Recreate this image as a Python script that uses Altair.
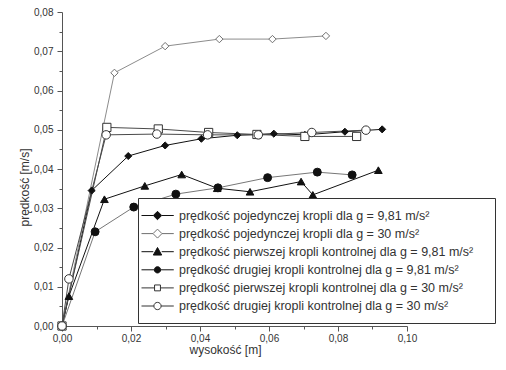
import altair as alt
import pandas as pd

labels = [
    "prędkość pojedynczej kropli dla g = 9,81 m/s²",
    "prędkość pojedynczej kropli dla g = 30 m/s²",
    "prędkość pierwszej kropli kontrolnej dla g = 9,81 m/s²",
    "prędkość drugiej kropli kontrolnej dla g = 9,81 m/s²",
    "prędkość pierwszej kropli kontrolnej dla g = 30 m/s²",
    "prędkość drugiej kropli kontrolnej dla g = 30 m/s²",
]

s1_x = [0, 0.0086, 0.0192, 0.0299, 0.0404, 0.0508, 0.0614, 0.0704, 0.0820, 0.0928]
s1_y = [0, 0.0345, 0.0433, 0.0460, 0.0477, 0.0486, 0.0490, 0.0487, 0.0495, 0.0501]
s2_x = [0, 0.0152, 0.0299, 0.0456, 0.0610, 0.0765]
s2_y = [0, 0.0645, 0.0713, 0.0731, 0.0731, 0.0739]
s3_x = [0, 0.0020, 0.0123, 0.0240, 0.0347, 0.0450, 0.0545, 0.0693, 0.0727, 0.0917]
s3_y = [0, 0.0076, 0.0323, 0.0357, 0.0386, 0.0351, 0.0342, 0.0368, 0.0334, 0.0397]
s4_x = [0, 0.0096, 0.0208, 0.0330, 0.0452, 0.0596, 0.0740, 0.0841]
s4_y = [0, 0.0240, 0.0303, 0.0336, 0.0352, 0.0378, 0.0392, 0.0385]
s5_x = [0, 0.0130, 0.0279, 0.0425, 0.0565, 0.0704, 0.0854]
s5_y = [0, 0.0506, 0.0502, 0.0493, 0.0488, 0.0483, 0.0483]
s6_x = [0, 0.0020, 0.0128, 0.0275, 0.0422, 0.0569, 0.0724, 0.0881]
s6_y = [0, 0.0120, 0.0487, 0.0489, 0.0487, 0.0487, 0.0493, 0.0499]

x_ticks = [0, 0.01, 0.02, 0.03, 0.04, 0.05, 0.06, 0.07, 0.08, 0.09, 0.10]
y_ticks = [0, 0.005, 0.01, 0.015, 0.02, 0.025, 0.03, 0.035, 0.04, 0.045,
           0.05, 0.055, 0.06, 0.065, 0.07, 0.075, 0.08]

line_colors = ["#111111", "#8c8c8c", "#111111", "#777777", "#4a4a4a", "#4a4a4a"]
fill_colors = ["#111111", "#ffffff", "#111111", "#111111", "#ffffff", "#ffffff"]
stroke_colors = ["#111111", "#707070", "#111111", "#111111", "#333333", "#333333"]
shapes = ["diamond", "diamond", "triangle-up", "circle", "square", "circle"]
sizes = [50, 72, 60, 30, 30, 42]

series = [(s1_x, s1_y), (s2_x, s2_y), (s3_x, s3_y), (s4_x, s4_y), (s5_x, s5_y), (s6_x, s6_y)]
rows = []
for k, (xs, ys) in enumerate(series):
    for i, (xv, yv) in enumerate(zip(xs, ys)):
        rows.append({"k": k, "i": i, "x": xv, "y": yv})
df = pd.DataFrame(rows)

keys = list(range(6))
FONT = "Liberation Sans"

# legend symbol paths (line with marker), unit = 7px
cx = 0.286
L0, L1 = -2.0, 2.61
def seg(m):
    return f"M{L0},0L{cx - m:.3f},0M{cx + m:.3f},0L{L1},0"
def diamond(m):
    return seg(m) + f"M{cx:.3f},{-m}L{cx + m:.3f},0L{cx:.3f},{m}L{cx - m:.3f},0Z"
def tri(m):
    return seg(m) + f"M{cx:.3f},{-m}L{cx + m:.3f},{m*0.8:.3f}L{cx - m:.3f},{m*0.8:.3f}Z"
def circ(r):
    return seg(r) + f"M{cx - r:.3f},0A{r},{r} 0 1,0 {cx + r:.3f},0A{r},{r} 0 1,0 {cx - r:.3f},0Z"
def sq(s):
    return seg(s) + f"M{cx - s:.3f},{-s}L{cx + s:.3f},{-s}L{cx + s:.3f},{s}L{cx - s:.3f},{s}Z"

leg_paths = [diamond(0.6), diamond(0.64), tri(0.6), circ(0.45), sq(0.42), circ(0.52)]

def arr(vals):
    return "[" + ",".join("'" + v + "'" for v in vals) + "]"

label_expr = arr(labels) + "[datum.value]"

def make_legend():
    return alt.Legend(
        orient="none", legendX=76, legendY=186,
        title="M", titleOrient="right", titleOpacity=0, titleFontSize=12,
        titlePadding=2, titleFont=FONT,
        fillColor="white", strokeColor="#333333", padding=10,
        labelFont=FONT, labelFontSize=12.5, labelColor="#333333", labelLimit=500,
        symbolSize=196, symbolStrokeWidth=1, symbolOpacity=1,
        labelOffset=16, rowPadding=4.1,
        labelExpr=label_expr,
    )

x_enc = alt.X("x:Q", scale=alt.Scale(domain=[0, 0.1], nice=False, zero=False),
              axis=alt.Axis(values=x_ticks, title="wysokość [m]", grid=False,
                            labelExpr="round(datum.value*100) % 2 == 0 ? replace(format(datum.value, '.2f'), '.', ',') : ''",
                            tickSize={"condition": {"test": "round(datum.value*100) % 2 == 0", "value": 5}, "value": 3},
                            domainColor="#555555", tickColor="#555555", labelColor="#333333",
                            labelFont=FONT, labelFontSize=10, labelPadding=2, labelFlush=False,
                            titleFont=FONT, titleFontSize=12, titleFontWeight="normal",
                            titleColor="#333333", titlePadding=1, titleX=163))
y_enc = alt.Y("y:Q", scale=alt.Scale(domain=[0, 0.08], nice=False, zero=False),
              axis=alt.Axis(values=y_ticks, title="prędkość [m/s]", grid=False,
                            labelExpr="round(datum.value*1000) % 10 == 0 ? replace(format(datum.value, '.2f'), '.', ',') : ''",
                            tickSize={"condition": {"test": "round(datum.value*1000) % 10 == 0", "value": 5}, "value": 3},
                            domainColor="#555555", tickColor="#555555", labelColor="#333333",
                            labelFont=FONT, labelFontSize=10, labelPadding=4, labelFlush=False,
                            titleFont=FONT, titleFontSize=12, titleFontWeight="normal",
                            titleColor="#333333", titlePadding=2, titleY=175))

base = alt.Chart(df)
lines = base.mark_line(strokeWidth=1).encode(
    x=x_enc, y=y_enc,
    color=alt.Color("k:N", scale=alt.Scale(domain=keys, range=line_colors), legend=None),
    order="i:Q",
)
points = base.mark_point(filled=True, strokeWidth=1, opacity=1).encode(
    x=x_enc, y=y_enc,
    shape=alt.Shape("k:N", scale=alt.Scale(domain=keys, range=shapes), legend=None),
    fill=alt.Fill("k:N", scale=alt.Scale(domain=keys, range=fill_colors), legend=None),
    stroke=alt.Stroke("k:N", scale=alt.Scale(domain=keys, range=stroke_colors), legend=None),
    size=alt.Size("k:O", scale=alt.Scale(domain=keys, range=sizes), legend=None),
)
legend_layer = base.mark_point(filled=True, strokeWidth=1, opacity=0, size=196).encode(
    x=x_enc, y=y_enc,
    shape=alt.Shape("k:N", scale=alt.Scale(domain=keys, range=leg_paths), legend=make_legend()),
    fill=alt.Fill("k:N", scale=alt.Scale(domain=keys, range=fill_colors), legend=make_legend()),
    stroke=alt.Stroke("k:N", scale=alt.Scale(domain=keys, range=stroke_colors), legend=make_legend()),
)

chart = alt.layer(lines, points, legend_layer).resolve_scale(
    shape="independent", fill="independent", stroke="independent"
).properties(
    width=345, height=314,
    padding={"left": 54, "top": 4, "right": 91, "bottom": 40},
    autosize=alt.AutoSizeParams(type="none"),
    background="white",
).configure_view(stroke=None)

chart.save("out.html", embed_options={"renderer": "svg", "actions": False})
